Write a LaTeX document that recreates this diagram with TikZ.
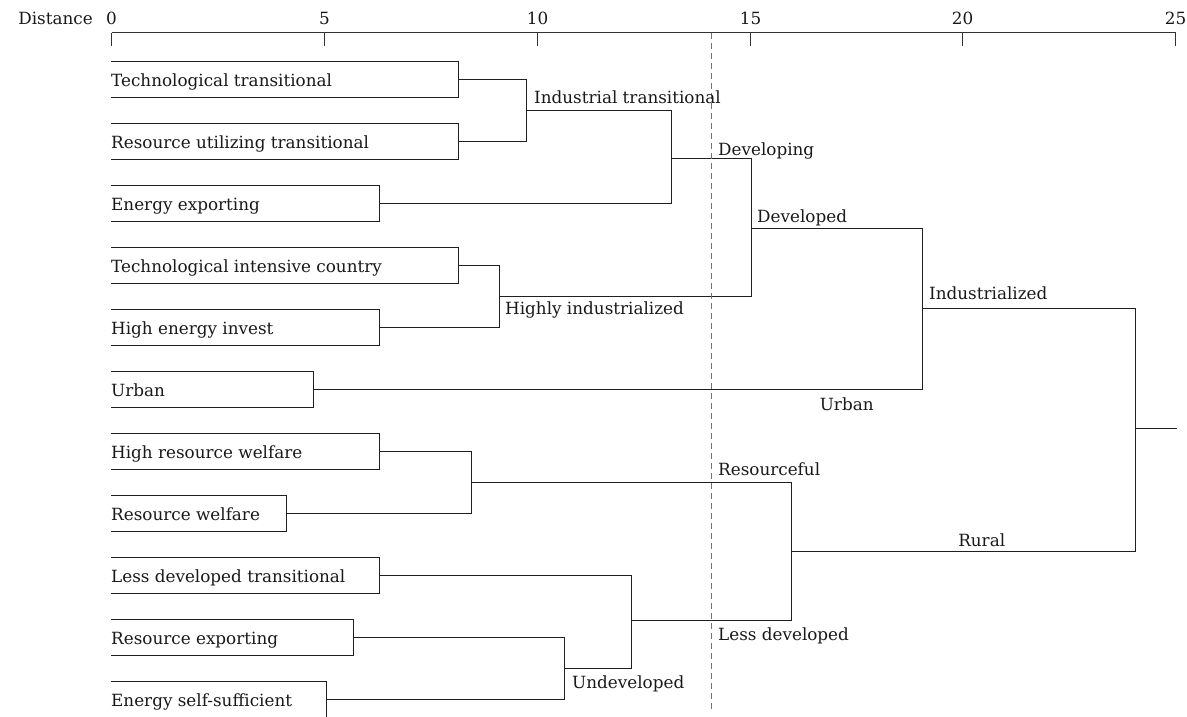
\documentclass[tikz,border=0pt]{standalone}
\usepackage{fontspec}
\setmainfont{DejaVu Serif}
\begin{document}
\begin{tikzpicture}[x=1pt,y=-1pt,
  lbl/.style={font=\fontsize{16.8}{19}\selectfont, inner sep=0pt, text=black!90},
  tree/.style={draw=black!88, line width=1.7pt},
  cut/.style={draw=black!55, line width=1.2pt, dash pattern=on 6pt off 4pt},
  axisline/.style={draw=black!80, line width=1.2pt}]
\clip (0,0) rectangle (1187,716);
\fill[white] (0,0) rectangle (1187,716);

% axis
\node[lbl, anchor=base east] (dist) at (93,24) {Distance};
\draw[axisline] (111.5,32.5) -- (1175.5,32.5);
\foreach \v/\px in {0/111.5,5/324.5,10/537.5,15/750.5,20/962.5,25/1175.5}{
  \draw[axisline] (\px,32.5) -- (\px,46);
  \node[lbl, anchor=base] (tick\v) at (\px,24) {\v};
}

% leaves: index / right edge / text
\foreach \i/\r/\t in {0/458.5/Technological transitional,
                     1/458.5/Resource utilizing transitional,
                     2/379.5/Energy exporting,
                     3/458.5/Technological intensive country,
                     4/379.5/High energy invest,
                     5/313.5/Urban,
                     6/379.5/High resource welfare,
                     7/286.5/Resource welfare,
                     8/379.5/Less developed transitional,
                     9/353.5/Resource exporting,
                     10/326.5/Energy self-sufficient}{
  \pgfmathsetmacro{\mid}{79.5+62*\i}
  \coordinate (l\i) at (\r,\mid);
  \draw[tree] (111,\mid-18) -| (\r,\mid+18) -- (111,\mid+18);
  \node[lbl, anchor=base west] (leaf\i) at (111,\mid+7.3) {\t};
}

% join coordinates
\coordinate (jA) at (526.5,110.5);
\coordinate (jB) at (671.5,158.5);
\coordinate (jH) at (499.5,296.5);
\coordinate (jD) at (751.5,228.5);
\coordinate (jI) at (922.5,308.5);
\coordinate (jRs) at (471.5,482.5);
\coordinate (jU) at (564.5,668.5);
\coordinate (jL) at (631.5,620.5);
\coordinate (jRu) at (791.5,551.5);
\coordinate (jRoot) at (1135.5,428.5);
\coordinate (rootend) at (1177,428.5);

% dendrogram
\draw[tree] (l0) -| (jA) |- (l1);
\draw[tree] (jA) -| (jB) |- (l2);
\draw[tree] (l3) -| (jH) |- (l4);
\draw[tree] (jB) -| (jD) |- (jH);
\draw[tree] (jD) -| (jI) |- (l5);
\draw[tree] (l6) -| (jRs) |- (l7);
\draw[tree] (l9) -| (jU) |- (l10);
\draw[tree] (l8) -| (jL) |- (jU);
\draw[tree] (jRs) -| (jRu) |- (jL);
\draw[tree] (jI) -| (jRoot) |- (jRu);
\draw[tree] (jRoot) -- (rootend);

% cut line
\coordinate (cutTop) at (711.5,33);
\coordinate (cutBot) at (711.5,712);
\draw[cut] (cutTop) -- (cutBot);

% cluster labels
\node[lbl, anchor=base west] (nA) at (534,103.3) {Industrial transitional};
\node[lbl, anchor=base west] (nB) at (718,155) {Developing};
\node[lbl, anchor=base west] (nD) at (757,222.7) {Developed};
\node[lbl, anchor=base west] (nH) at (505,314) {Highly industrialized};
\node[lbl, anchor=base west] (nI) at (929,299.3) {Industrialized};
\node[lbl, anchor=base] (nUrb) at (846.7,410) {Urban};
\node[lbl, anchor=base west] (nRs) at (718,475) {Resourceful};
\node[lbl, anchor=base] (nRu) at (981.7,546) {Rural};
\node[lbl, anchor=base west] (nL) at (718,640) {Less developed};
\node[lbl, anchor=base west] (nU) at (572,688) {Undeveloped};
\end{tikzpicture}
\end{document}
